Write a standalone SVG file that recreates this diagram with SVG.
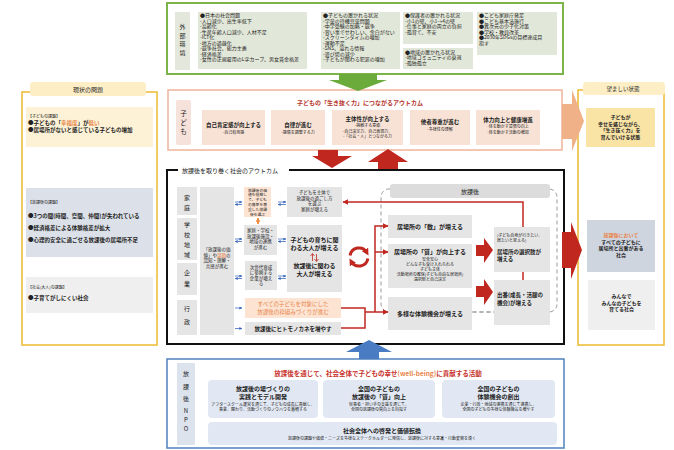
<svg xmlns="http://www.w3.org/2000/svg" width="674" height="450" viewBox="0 0 674 450">
<defs>
<style>
text{font-family:"Noto Sans CJK JP","Noto Sans",sans-serif;fill:#222}
.c{text-anchor:middle}
.b{font-weight:700}
.s38{font-size:3.8px}
.s4{font-size:4px}
.s45{font-size:4.5px}
.s5{font-size:5px}
.s55{font-size:5.5px}
.s6{font-size:6px}
.s65{font-size:6.5px}
.or{fill:#e8864a}
.dr{fill:#b8342c}
.gbox{fill:#e5e5e5}
.env{fill:#e2e8d9}
.kid{fill:#f8e2d6}
.npo{fill:#e1e8f3}
.red{stroke:#c0271f;stroke-width:1.5;fill:none}
.blue{stroke:#3f6fc2;stroke-width:0.8;fill:none}
</style>
<marker id="ra" viewBox="0 0 10 10" refX="9" refY="5" markerWidth="6" markerHeight="6" markerUnits="userSpaceOnUse" orient="auto"><path d="M0,0 L10,5 L0,10 z" fill="#c0271f"/></marker>
<marker id="rc" viewBox="0 0 10 10" refX="5" refY="5" markerWidth="7" markerHeight="7" markerUnits="userSpaceOnUse" orient="auto"><path d="M0,0 L10,5 L0,10 z" fill="#c0271f"/></marker>
<marker id="ba" viewBox="0 0 10 10" refX="9" refY="5" markerWidth="3" markerHeight="3" markerUnits="userSpaceOnUse" orient="auto"><path d="M0,0 L10,5 L0,10 z" fill="#3f6fc2"/></marker>
<marker id="oa" viewBox="0 0 10 10" refX="9" refY="5" markerWidth="4" markerHeight="4" markerUnits="userSpaceOnUse" orient="auto"><path d="M0,0 L10,5 L0,10 z" fill="#f08a3c"/></marker>
</defs>
<rect width="674" height="450" fill="#fff"/>

<!-- External environment -->
<g id="external">
<rect x="167" y="3" width="396" height="71" fill="#fff" stroke="#7cb449" stroke-width="2"/>
<rect x="175" y="12" width="15" height="58" fill="#e3e7dc"/>
<text class="c s6" x="182.5" y="29">外</text>
<text class="c s6" x="182.5" y="37.5">部</text>
<text class="c s6" x="182.5" y="46">環</text>
<text class="c s6" x="182.5" y="54.5">境</text>
<rect class="env" x="198" y="12" width="109" height="57"/>
<g class="s5">
<text x="200" y="17">●日本の社会問題</text>
<text x="200" y="22.5">-人口減少、出生率低下</text>
<text x="200" y="28">-高齢化</text>
<text x="200" y="33.5">-生産年齢人口減少、人材不足</text>
<text x="200" y="39">-ICT化</text>
<text x="200" y="44.5">-地方の過疎化</text>
<text x="200" y="50">-競争社会、能力主義</text>
<text x="200" y="55.5">-経済格差</text>
<text x="200" y="61">-女性の正規雇用のL字カーブ、男女賃金格差</text>
</g>
<rect class="env" x="321" y="12" width="79" height="57"/>
<g class="s5">
<text x="323" y="17">●子どもの置かれる状況</text>
<text x="323" y="22.5">-学童の待機児童問題</text>
<text x="323" y="28">-中学受験の加熱・競争</text>
<text x="323" y="33.5">-習い事でせわしい、余白がない</text>
<text x="323" y="39">-スクリーンタイムの増加</text>
<text x="323" y="44.5">-運動不足</text>
<text x="323" y="50">-SNS、溢れる情報</text>
<text x="323" y="55.5">-遊び場の減少</text>
<text x="323" y="61">-子どもが関わる犯罪の増加</text>
</g>
<rect class="env" x="403" y="12" width="70" height="32"/>
<g class="s5">
<text x="405" y="17">●保護者の置かれる状況</text>
<text x="405" y="22.5">-小1の壁、小1→4の壁</text>
<text x="405" y="28">-仕事と家庭の両立の負担</text>
<text x="405" y="33.5">-孤育て、不安</text>
</g>
<rect class="env" x="403" y="48" width="70" height="21"/>
<g class="s5">
<text x="405" y="53.5">●地域の置かれる状況</text>
<text x="405" y="59">-地域コミュニティの衰退</text>
<text x="405" y="64.5">-孤独孤立</text>
</g>
<rect class="env" x="477" y="12" width="80" height="43"/>
<g class="s5">
<text x="479" y="17">●こども家庭庁発足</text>
<text x="479" y="22.5">●こども基本法施行</text>
<text x="479" y="28">●異次元の少子化対策</text>
<text x="479" y="33.5">●学校・教員改革</text>
<text x="479" y="39">●2030年SDGsの目標達成目</text>
<text x="479" y="44.5">指す</text>
</g>
</g>

<!-- Current issues -->
<g id="issues">
<rect x="22" y="92" width="135" height="253" fill="#fff" stroke="#ebbb30" stroke-width="1.5"/>
<rect x="30" y="82" width="116" height="14" rx="3" fill="#fdeec6"/>
<text class="c s6" x="88" y="91.5">現状の問題</text>
<rect x="26" y="107" width="127" height="40" fill="#fdf2d6"/>
<text class="s4" x="28" y="117.5">【子どもの課題】</text>
<text class="s55 b" x="28" y="124.5">●子どもの「<tspan class="or">幸福度</tspan>」が<tspan class="or">低い</tspan></text>
<text class="s55 b" x="28" y="131.5">●居場所がないと感じている子どもの増加</text>
<rect x="26" y="188" width="127" height="69" fill="#dce1e9"/>
<text class="s4" x="28" y="204">【放課後の課題】</text>
<text class="s55 b" x="28" y="218">●3つの間(時間、空間、仲間)が失われている</text>
<text class="s55 b" x="28" y="230">●経済格差による体験格差が拡大</text>
<text class="s55 b" x="28" y="242">●心理的安全に過ごせる放課後の居場所不足</text>
<rect x="26" y="277" width="127" height="36" fill="#efefef"/>
<text class="s4" x="28" y="289">【社会(大人)の課題】</text>
<text class="s55 b" x="28" y="300">●子育てがしにくい社会</text>
</g>

<!-- Desired state -->
<g id="desired">
<rect x="578" y="90" width="86" height="255" fill="#fff" stroke="#ebbb30" stroke-width="1.5"/>
<rect x="583" y="82" width="82" height="13" rx="3" fill="#fdeec6"/>
<text class="c s55" x="623" y="91">望ましい状態</text>
<rect x="586" y="108" width="69" height="39" fill="#f9e3a5"/>
<g class="c s5 b">
<text x="620.5" y="119">子どもが</text>
<text x="620.5" y="125.5">幸せを感じながら、</text>
<text x="620.5" y="132">「生き抜く力」を</text>
<text x="620.5" y="138.5">育んでいける状態</text>
</g>
<rect x="587" y="220" width="68" height="52" fill="#cfd5df"/>
<g class="c s5 b">
<text class="or" x="621" y="237">放課後において</text>
<text x="621" y="243.5">すべての子どもに</text>
<text x="621" y="250">居場所と出番がある</text>
<text x="621" y="256.5">社会</text>
</g>
<rect x="588" y="280" width="67" height="50" fill="#efefef"/>
<g class="c s5 b">
<text x="621.5" y="298">みんなで</text>
<text x="621.5" y="304.5">みんなの子どもを</text>
<text x="621.5" y="311">育てる社会</text>
</g>
</g>

<!-- Child outcomes -->
<g id="child-outcomes">
<rect x="168" y="90" width="394" height="60" fill="#fff" stroke="#f0b49c" stroke-width="1.5"/>
<rect x="176" y="100" width="15" height="45" rx="2" fill="#f6e1db"/>
<text class="c s65" x="183.5" y="116">子</text>
<text class="c s65" x="183.5" y="125">ど</text>
<text class="c s65" x="183.5" y="134">も</text>
<text class="c s6 b dr" x="360" y="105">子どもの「生き抜く力」につながるアウトカム</text>
<rect class="kid" x="202" y="110" width="63" height="35"/>
<text class="c s55 b" x="233.5" y="126.5">自己肯定感が向上する</text>
<text class="c s4" x="233.5" y="133.5">-自己有用感</text>
<rect class="kid" x="271" y="110" width="54" height="35"/>
<text class="c s55 b" x="298" y="126.5">自律が進む</text>
<text class="c s4" x="298" y="133.5">-感情を調整する力</text>
<rect class="kid" x="332" y="110" width="71" height="35"/>
<text class="c s55 b" x="367.5" y="120.5">主体性が向上する</text>
<text class="c s4" x="367.5" y="127">-挑戦する意欲</text>
<text class="c s4" x="367.5" y="132.5">-自己決定力、自己表現力、</text>
<text class="c s4" x="367.5" y="138">-「社会・人」とつながる力</text>
<rect class="kid" x="410" y="110" width="60" height="35"/>
<text class="c s55 b" x="440" y="124">他者尊重が進む</text>
<text class="c s4" x="440" y="131">-多様性の理解</text>
<rect class="kid" x="476" y="110" width="64" height="35"/>
<text class="c s55 b" x="508" y="121.5">体力向上と健康増進</text>
<text class="c s4" x="508" y="128">-体を動かす習慣の向上</text>
<text class="c s4" x="508" y="133.5">-体を動かす活動の増加</text>
</g>

<!-- Society outcomes -->
<g id="society-frame">
<path d="M178,170 H167 V344 H564 V170 H289" fill="none" stroke="#111" stroke-width="2"/>
<text class="s6" x="182" y="172.5">放課後を取り巻く社会のアウトカム</text>
</g>
<g id="actors">
<rect class="gbox" x="177" y="187" width="20" height="28"/>
<text class="c s6" x="187" y="200">家</text>
<text class="c s6" x="187" y="210">庭</text>
<rect class="gbox" x="177" y="218" width="20" height="42"/>
<text class="c s6" x="187" y="227">学</text>
<text class="c s6" x="187" y="237">校</text>
<text class="c s6" x="187" y="247">地</text>
<text class="c s6" x="187" y="257">域</text>
<rect class="gbox" x="177" y="263" width="20" height="32"/>
<text class="c s6" x="187" y="275">企</text>
<text class="c s6" x="187" y="286">業</text>
<rect class="gbox" x="177" y="300" width="20" height="35"/>
<text class="c s6" x="187" y="311">行</text>
<text class="c s6" x="187" y="324">政</text>
</g>
<g id="awareness">
<rect class="gbox" x="200" y="187" width="34" height="148"/>
<g class="c s45">
<text x="217" y="251">「放課後の価</text>
<text x="217" y="256.5">値」や<tspan class="or">課題</tspan>の</text>
<text x="217" y="262">認知・理解・</text>
<text x="217" y="267.5">共感が進む</text>
</g>
</g>
<g id="family-choice">
<rect x="244" y="187" width="27" height="30" fill="#fce3d2"/>
<g class="c s38 or">
<text x="257.5" y="191.5">放課後の価</text>
<text x="257.5" y="196.3">値を理解し</text>
<text x="257.5" y="201.1">て、子ども</text>
<text x="257.5" y="205.9">の意思を尊</text>
<text x="257.5" y="210.7">重した放課</text>
<text x="257.5" y="215.5">後を選ぶ</text>
</g>
</g>
<g id="collaboration">
<rect class="gbox" x="244" y="225" width="33" height="30"/>
<g class="c s45">
<text x="260.5" y="232">家庭・学校・</text>
<text x="260.5" y="237.5">放課後施設・</text>
<text x="260.5" y="243">地域の連携</text>
<text x="260.5" y="248.5">が進む</text>
</g>
</g>
<g id="companies">
<rect class="gbox" x="245" y="261" width="32" height="29"/>
<g class="c s45">
<text x="261" y="268.5">次世代育成</text>
<text x="261" y="274">に参画する</text>
<text x="261" y="279.5">企業が増え</text>
<text x="261" y="285">る</text>
</g>
</g>
<g id="framework">
<rect x="245" y="298" width="96" height="20" fill="#fce3d2"/>
<text class="c s55 or" x="293" y="306">すべての子どもを対象にした</text>
<text class="c s55 or" x="293" y="313.5">放課後の枠組みづくりが進む</text>
</g>
<g id="resources">
<rect class="gbox" x="245" y="322" width="96" height="13"/>
<text class="c s55 b" x="293" y="330.5">放課後にヒトモノカネを増やす</text>
</g>
<g id="families">
<rect class="gbox" x="287" y="187" width="55" height="30"/>
<g class="c s45">
<text x="314.5" y="194">子どもを主体で</text>
<text x="314.5" y="199.5">放課後の過ごし方</text>
<text x="314.5" y="205">を選ぶ</text>
<text x="314.5" y="210.5">家庭が増える</text>
</g>
</g>
<g id="adults">
<rect class="gbox" x="287" y="225" width="55" height="67"/>
<g class="c s6 b">
<text x="314.5" y="242">子どもの育ちに関</text>
<text x="314.5" y="250">わる大人が増える</text>
<text x="314.5" y="268">放課後に関わる</text>
<text x="314.5" y="276">大人が増える</text>
</g>
<path d="M312.5,261 V254 M310.5,256 L312.5,253.5 L314.5,256 M316.5,254 V261 M314.5,259 L316.5,261.5 L318.5,259" stroke="#c0271f" stroke-width="0.8" fill="none"/>
</g>

<!-- After-school area -->
<g id="afterschool">
<rect x="381" y="189" width="176" height="123" rx="8" fill="none" stroke="#9a9a9a" stroke-width="1" stroke-dasharray="4 3"/>
<rect x="390" y="184" width="160" height="14" rx="3" fill="#dcdcdc"/>
<text class="c s6" x="470" y="193.5">放課後</text>
</g>
<g id="places-number">
<rect class="gbox" x="388" y="215" width="84" height="23"/>
<text class="c s6 b" x="430" y="229">居場所の「数」が増える</text>
</g>
<g id="places-quality">
<rect class="gbox" x="388" y="244" width="84" height="44"/>
<text class="c s6 b" x="430" y="254">居場所の「質」が向上する</text>
<g class="c s4 or">
<text x="430" y="260.5">安全安心</text>
<text x="430" y="265.5">どんな子も受け入れられる</text>
<text x="430" y="270.5">子ども主体</text>
<text x="430" y="275.5">活動場所の確保(子ども自由な居場所)</text>
<text x="430" y="280.5">選択肢と自己決定</text>
</g>
</g>
<g id="experiences">
<rect class="gbox" x="388" y="297" width="84" height="33"/>
<text class="c s6 b" x="430" y="316">多様な体験機会が増える</text>
</g>
<g id="choices">
<rect class="gbox" x="494" y="227" width="56" height="45"/>
<text class="s4" x="497" y="237">(子ども自身が行きたい、</text>
<text class="s4" x="497" y="242">居たいと思える)</text>
<text class="s55 b" x="497" y="254">居場所の選択肢が</text>
<text class="s55 b" x="497" y="261">増える</text>
</g>
<g id="roles">
<rect class="gbox" x="494" y="280" width="56" height="45"/>
<text class="s55 b" x="497" y="297">出番(成長・活躍の</text>
<text class="s55 b" x="497" y="305">機会)が増える</text>
</g>

<!-- NPO activities -->
<g id="npo">
<rect x="167" y="359" width="397" height="89" fill="#fff" stroke="#4f81bd" stroke-width="1.5"/>
<rect x="177" y="363" width="18" height="82" fill="#dde3ed"/>
<g class="c s6">
<text x="186" y="376">放</text>
<text x="186" y="389">課</text>
<text x="186" y="401">後</text>
<text x="186" y="413">N</text>
<text x="186" y="422">P</text>
<text x="186" y="431">O</text>
</g>
<text class="c s65 b" x="378" y="376" style="fill:#c8302a">放課後を通じて、社会全体で子どもの幸せ<tspan class="or">(well-being)</tspan>に貢献する活動</text>
</g>
<g id="npo-model">
<rect class="npo" x="208" y="380" width="110" height="38" rx="4"/>
<text class="c s6 b" x="263" y="391">放課後の場づくりの</text>
<text class="c s6 b" x="263" y="399">実践とモデル開発</text>
<text class="c s4" x="263" y="406">アフタースクール運営を通じて、子どもの成長に貢献し、</text>
<text class="c s4" x="263" y="411">事業、関わり、活動づくりのノウハウを蓄積する</text>
</g>
<g id="npo-quality">
<rect class="npo" x="323" y="380" width="112" height="38" rx="4"/>
<text class="c s6 b" x="379" y="391">全国の子どもの</text>
<text class="c s6 b" x="379" y="399">放課後の「質」向上</text>
<text class="c s4" x="379" y="406">従事者・担い手の支援を通じて、</text>
<text class="c s4" x="379" y="411">全国の放課後の質向上を目指す</text>
</g>
<g id="npo-experience">
<rect class="npo" x="442" y="380" width="113" height="38" rx="4"/>
<text class="c s6 b" x="498.5" y="391">全国の子どもの</text>
<text class="c s6 b" x="498.5" y="399">体験機会の創出</text>
<text class="c s4" x="498.5" y="406">企業・行政・地域の連携を通じて連携し、</text>
<text class="c s4" x="498.5" y="411">全国の子どもの多様な体験機会を増やす</text>
</g>
<g id="npo-awareness">
<rect class="npo" x="208" y="422" width="349" height="23" rx="4"/>
<text class="c s6 b" x="382" y="433">社会全体への啓発と価値転換</text>
<text class="c s4" x="382" y="440">放課後の課題や価値・ニーズを多様なステークホルダーに発信し、放課後に対する意識・行動変容を導く</text>
</g>

<!-- Connectors -->
<g id="connectors">
<!-- block arrows between sections -->
<polygon points="339,74 377,74 377,80 387,80 358,91 329,80 339,80" fill="#6aab3c"/>
<polygon points="562,104 572,104 572,90 584,121 572,151 572,139 562,139" fill="#f0b088"/>
<polygon points="318,150 338,150 338,156 352,156 332,168 312,156 318,156" fill="#c0271f"/>
<polygon points="378,169 398,169 398,162 408,162 388,149 368,162 378,162" fill="#c0271f"/>
<polygon points="562,232 571,232 571,222 582,250 571,279 571,268 562,268" fill="#c0271f"/>
<polygon points="359,359 379,359 379,352 392,352 369,340 346,352 359,352" fill="#4a7cc4"/>
<polygon points="476,245 484,245 484,238 493,250 484,263 484,256 476,256" fill="#c0271f"/>
<polygon points="476,286 484,286 484,279 493,292 484,305 484,297 476,297" fill="#c0271f"/>
<!-- red feedback lines -->
<path class="red" d="M523,227 V202 H343" marker-end="url(#ra)"/>
<path class="red" d="M523,272 V280"/>
<path class="red" d="M341,308 H365 V328 H341"/>
<path class="red" d="M365,312 H375"/>
<path class="red" d="M375,312 V226 H388" marker-end="url(#ra)"/>
<path class="red" d="M375,252 H388" marker-end="url(#ra)"/>
<path class="red" d="M375,312 H388" marker-end="url(#ra)"/>
<path d="M350.1,255.4 A9,9 0 0 1 366.8,252.5" stroke="#c0271f" stroke-width="3" fill="none" marker-end="url(#rc)"/>
<path d="M367.9,258.6 A9,9 0 0 1 351.2,261.5" stroke="#c0271f" stroke-width="3" fill="none" marker-end="url(#rc)"/>
<path d="M472,312 H494" stroke="#9a9a9a" stroke-width="1" stroke-dasharray="4 3" fill="none"/>
<!-- blue exchange arrows -->
<path class="blue" d="M235,202 H242" marker-end="url(#ba)"/>
<path class="blue" d="M242,204.5 H235" marker-end="url(#ba)"/>
<path class="blue" d="M235,239 H242" marker-end="url(#ba)"/>
<path class="blue" d="M242,241.5 H235" marker-end="url(#ba)"/>
<path class="blue" d="M235,276 H242" marker-end="url(#ba)"/>
<path class="blue" d="M242,278.5 H235" marker-end="url(#ba)"/>
<path class="blue" d="M235,308 H242" marker-end="url(#ba)"/>
<path class="blue" d="M235,328.5 H242" marker-end="url(#ba)"/>
<path class="blue" d="M278,202 H286" marker-end="url(#ba)"/>
<path class="blue" d="M286,204.5 H278" marker-end="url(#ba)"/>
<path class="blue" d="M278,239 H286" marker-end="url(#ba)"/>
<path class="blue" d="M286,241.5 H278" marker-end="url(#ba)"/>
<path class="blue" d="M278,276 H286" marker-end="url(#ba)"/>
<path class="blue" d="M286,278.5 H278" marker-end="url(#ba)"/>
<!-- orange link between family boxes -->
<path d="M258,223.5 V218" stroke="#f08a3c" stroke-width="1.2" fill="none" marker-end="url(#oa)"/>
<path d="M258,218 V224" stroke="#f08a3c" stroke-width="1.2" fill="none" marker-end="url(#oa)"/>
</g>
</svg>
